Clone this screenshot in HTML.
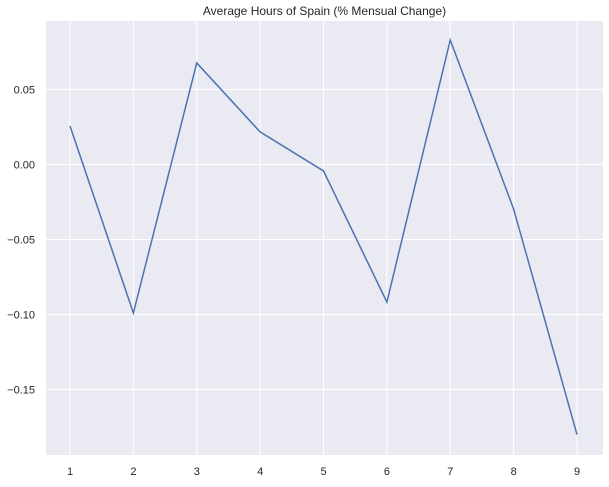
<!DOCTYPE html>
<html><head><meta charset="utf-8"><style>
body{margin:0;background:#fff;font-family:"Liberation Sans",sans-serif}
</style></head><body>
<svg id="chart" width="609" height="482" xmlns="http://www.w3.org/2000/svg">
<text x="324.5" y="15" text-anchor="middle" font-size="12" fill="#262626">Average Hours of Spain (% Mensual Change)</text>
<rect x="46" y="21" width="557" height="434" fill="#eaeaf2"/>
<g id="grid"></g><g id="ticks"></g>
<polyline id="series" fill="none" stroke="#4c72b0" stroke-width="1.5"/>
</svg>
<script>
const categories=[1,2,3,4,5,6,7,8,9];
const values=[0.0257,-0.099,0.0677,0.0217,-0.0043,-0.0917,0.083,-0.0297,-0.180];
const yTicks=[0.05,0.00,-0.05,-0.10,-0.15];
const yTickLabels=["0.05","0.00","\u22120.05","\u22120.10","\u22120.15"];
const X=c=>70+(c-1)*(577-70)/8;
const Y=v=>164.5-v*1500;
const g=document.getElementById('grid'),t=document.getElementById('ticks');
const NS="http://www.w3.org/2000/svg";
categories.forEach(c=>{
 const l=document.createElementNS(NS,'line');
 
 
 l.setAttribute('x1',X(c));l.setAttribute('x2',X(c));l.setAttribute('y1',21);l.setAttribute('y2',455);
 l.setAttribute('stroke','#fff');l.setAttribute('stroke-width','1');g.appendChild(l);
 const tx=document.createElementNS(NS,'text');
 
 
 tx.setAttribute('x',X(c));tx.setAttribute('y',475);tx.setAttribute('text-anchor','middle');
 tx.setAttribute('font-size','11');tx.setAttribute('fill','#262626');tx.textContent=c;t.appendChild(tx);
});
yTicks.forEach((v,i)=>{
 const l=document.createElementNS(NS,'line');
 
 
 l.setAttribute('x1',46);l.setAttribute('x2',603);l.setAttribute('y1',Y(v));l.setAttribute('y2',Y(v));
 l.setAttribute('stroke','#fff');l.setAttribute('stroke-width','1');g.appendChild(l);
 const tx=document.createElementNS(NS,'text');
 
 
 tx.setAttribute('x',35);tx.setAttribute('y',Y(v)+4);tx.setAttribute('text-anchor','end');
 tx.setAttribute('font-size','11');tx.setAttribute('fill','#262626');tx.textContent=yTickLabels[i];t.appendChild(tx);
});
document.getElementById('series').setAttribute('points',categories.map((c,i)=>X(c)+','+Y(values[i])).join(' '));
</script>
</body></html>
